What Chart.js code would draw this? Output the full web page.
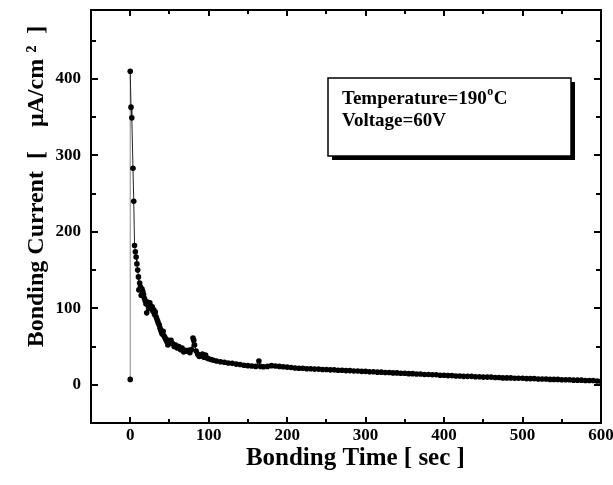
<!DOCTYPE html>
<html>
<head>
<meta charset="utf-8">
<script src="https://cdn.jsdelivr.net/npm/chart.js@4.4.1/dist/chart.umd.min.js"></script>
<style>
  html, body { margin: 0; padding: 0; background: #fff; }
  #wrap { width: 613px; height: 485px; position: relative; }
</style>
</head>
<body>
<div id="wrap"><canvas id="c" width="613" height="485"></canvas></div>
<script>
// Bonding time (s) and bonding current (µA/cm²)
const timeSec = [
  0, 0, 1, 2, 3.5, 4.5, 5.5, 6.5, 7.5, 8.5, 9.5, 10.5, 11, 12, 13, 14, 15, 16, 17, 18, 19, 20,
  21, 22, 23, 24, 25, 26, 27, 28, 29, 30, 31, 32, 33, 34, 35, 36, 37, 38, 39, 40,
  41, 42, 43, 44, 45, 46, 47, 48, 49, 50, 52, 54, 56, 58, 60, 62, 64, 66, 68, 70,
  72, 74, 76, 78, 80, 81, 82, 84, 86, 88, 90, 92, 94, 96, 98, 100,
  103, 106, 110, 115, 120, 125, 130, 135, 140, 145, 150, 155, 160, 164, 166, 170,
  175, 180, 185, 190, 195, 200, 205, 210, 215, 220, 225, 230, 235, 240, 245, 250,
  255, 260, 265, 270, 275, 280, 285, 290, 295, 300, 305, 310, 315, 320, 325, 330,
  335, 340, 345, 350, 355, 360, 365, 370, 375, 380, 385, 390, 395, 400, 405, 410,
  415, 420, 425, 430, 435, 440, 445, 450, 455, 460, 465, 470, 475, 480, 485, 490,
  495, 500, 505, 510, 515, 520, 525, 530, 535, 540, 545, 550, 555, 560, 565, 570,
  575, 580, 585, 590, 595, 600
];
const currentVals = [
  7, 410, 363, 349, 283, 240, 182, 174, 167, 158, 150, 141, 124, 133, 128, 117, 125, 122, 118, 113, 110, 106,
  94, 108, 104, 100, 107, 103, 99, 102, 96, 98, 92, 95, 89, 86, 83, 80, 78, 74, 71, 68,
  66, 70, 64, 62, 60, 58, 56, 52, 58, 55, 58, 54, 50, 52, 48, 50, 46, 48, 43, 45,
  44, 45, 42, 46, 61, 58, 52, 44, 40, 37, 38, 40, 36, 39, 35, 34,
  33, 32, 31, 30, 29.5, 28.5, 28, 27, 26.5, 25.5, 25, 24.5, 24, 31, 24, 23.5,
  24, 25, 24.5, 24, 23.5, 23, 22.5, 22, 21.5, 21.5, 21, 21, 20.5, 20.5, 20, 20,
  19.5, 19.5, 19, 19, 18.5, 18.5, 18, 18, 17.5, 17.5, 17, 17, 16.5, 16.5, 16, 16,
  15.5, 15.5, 15, 15, 14.5, 14.5, 14, 14, 13.5, 13.5, 13, 13, 12.5, 12.5, 12, 12,
  11.5, 11.5, 11, 11, 11, 10.5, 10.5, 10, 10, 10, 9.5, 9.5, 9, 9, 9, 8.5,
  8.5, 8.5, 8, 8, 8, 7.5, 7.5, 7.5, 7, 7, 7, 6.5, 6.5, 6.5, 6, 6,
  6, 5.5, 5.5, 5.5, 5, 4.5
];
const xTickLabels = [0, 100, 200, 300, 400, 500, 600];
const yTickLabels = [0, 100, 200, 300, 400];
const annotationLines = ['Temperature=190', 'Voltage=60V'];

const FONT = '"Liberation Serif", "Times New Roman", serif';

const points = timeSec.map((t, i) => ({ x: t, y: currentVals[i] }));

const framePlugin = {
  id: 'frame',
  afterDraw(chart) {
    const ctx = chart.ctx;
    const a = chart.chartArea;
    const xs = chart.scales.x, ys = chart.scales.y;
    ctx.save();
    ctx.strokeStyle = '#000';
    ctx.lineWidth = 2;
    ctx.strokeRect(a.left, a.top, a.right - a.left, a.bottom - a.top);
    ctx.beginPath();
    for (let v = 0; v <= 450; v += 50) {
      const py = Math.round(ys.getPixelForValue(v));
      const len = v % 100 === 0 ? 7 : 5;
      ctx.moveTo(a.left, py); ctx.lineTo(a.left + len, py);
      ctx.moveTo(a.right, py); ctx.lineTo(a.right - len, py);
    }
    for (let t = 0; t <= 600; t += 50) {
      const px = Math.round(xs.getPixelForValue(t));
      const len = t % 100 === 0 ? 6 : 4;
      ctx.moveTo(px, a.bottom); ctx.lineTo(px, a.bottom - len);
      ctx.moveTo(px, a.top); ctx.lineTo(px, a.top + len);
    }
    ctx.stroke();

    // annotation box
    const bx = 328, by = 78, bw = 243, bh = 78;
    ctx.fillStyle = '#fff';
    ctx.fillRect(bx, by, bw, bh);
    ctx.lineWidth = 1.5;
    ctx.strokeRect(bx, by, bw, bh);
    ctx.fillStyle = '#000';
    ctx.fillRect(bx + 4, by + bh, bw, 4);
    ctx.fillRect(bx + bw, by + 4, 4, bh);

    ctx.font = 'bold 19px ' + FONT;
    ctx.textBaseline = 'alphabetic';
    ctx.textAlign = 'left';
    ctx.fillText(annotationLines[0], 342, 104);
    const w0 = ctx.measureText(annotationLines[0]).width;
    ctx.font = 'bold 12px ' + FONT;
    ctx.fillText('o', 342 + w0 + 0.5, 95);
    const wo = ctx.measureText('o').width;
    ctx.font = 'bold 19px ' + FONT;
    ctx.fillText('C', 342 + w0 + wo + 1, 104);
    ctx.fillText(annotationLines[1], 342, 126);
    ctx.restore();
  }
};

new Chart(document.getElementById('c'), {
  type: 'scatter',
  data: {
    datasets: [{
      data: points,
      showLine: true,
      borderColor: '#222',
      borderWidth: 1,
      segment: {
        borderColor: (c) => c.p0DataIndex === 0 ? '#8a8a8a' : '#222'
      },
      backgroundColor: '#000',
      pointBackgroundColor: '#000',
      pointBorderColor: '#000',
      pointRadius: 2.8,
      pointBorderWidth: 0,
      tension: 0
    }]
  },
  options: {
    responsive: false,
    animation: false,
    events: [],
    layout: { padding: { top: 10, right: 12, left: 0, bottom: 0 } },
    plugins: { legend: { display: false }, tooltip: { enabled: false } },
    scales: {
      x: {
        type: 'linear',
        min: -50, max: 600,
        afterFit(s) { s.height = 62; s.paddingLeft = 0; s.paddingRight = 0; },
        grid: { display: false, drawTicks: false },
        border: { display: false },
        ticks: {
          stepSize: 50,
          padding: 2,
          color: '#000',
          font: { family: FONT, size: 17, weight: 'bold' },
          maxRotation: 0,
          autoSkip: false,
          callback: (v) => xTickLabels.includes(v) ? String(v) : ''
        },
        title: {
          display: true,
          text: '   Bonding Time [ sec ]',
          color: '#000',
          font: { family: FONT, size: 25, weight: 'bold' },
          padding: { top: 0, bottom: 11 }
        }
      },
      y: {
        type: 'linear',
        min: -50, max: 490,
        afterFit(s) { s.width = 91; s.paddingTop = 0; s.paddingBottom = 0; },
        grid: { display: false, drawTicks: false },
        border: { display: false },
        ticks: {
          stepSize: 50,
          padding: 10,
          color: '#000',
          font: { family: FONT, size: 17, weight: 'bold' },
          autoSkip: false,
          callback: (v) => yTickLabels.includes(v) ? String(v) : ''
        },
        title: {
          display: true,
          text: '          Bonding Current  [    \u03BCA/cm \u00B2  ]',
          color: '#000',
          font: { family: FONT, size: 24, weight: 'bold' },
          padding: { top: 22, bottom: 0 }
        }
      }
    }
  },
  plugins: [framePlugin]
});
</script>
</body>
</html>
